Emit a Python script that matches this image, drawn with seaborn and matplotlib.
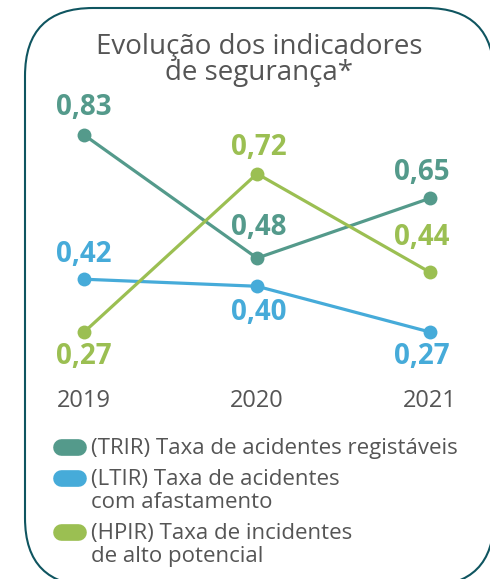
import matplotlib
matplotlib.use("Agg")
import matplotlib.pyplot as plt
import seaborn as sns
import pandas as pd
from matplotlib.patches import FancyBboxPatch
from matplotlib.lines import Line2D

years = ["2019", "2020", "2021"]
series_names = ["TRIR", "LTIR", "HPIR"]
trir = [0.83, 0.48, 0.65]
ltir = [0.42, 0.40, 0.27]
hpir = [0.27, 0.72, 0.44]
legend_labels = [
    "(TRIR) Taxa de acidentes registáveis",
    "(LTIR) Taxa de acidentes\ncom afastamento",
    "(HPIR) Taxa de incidentes\nde alto potencial",
]
title = "Evolução dos indicadores\nde segurança*"

colors = {"TRIR": "#549a8b", "LTIR": "#46abd9", "HPIR": "#9bbf52"}
text_gray = "#555555"
border_color = "#0f5560"

sns.set_theme(style="white")
plt.rcParams["font.family"] = ["Open Sans", "DejaVu Sans"]

rows = []
for name, vals in zip(series_names, [trir, ltir, hpir]):
    for i, v in enumerate(vals):
        rows.append({"x": i, "value": v, "series": name})
df = pd.DataFrame(rows)

W, H = 490, 579
fig = plt.figure(figsize=(W / 100, H / 100), dpi=100)

# background overlay axes in pixel units (y down)
bg = fig.add_axes([0, 0, 1, 1])
bg.set_xlim(0, W)
bg.set_ylim(H, 0)
bg.axis("off")
bg.patch.set_alpha(0)

# axes placement in pixels
ax_left, ax_right = 41, 473
ax_top, ax_bot = 110.4, 356.6
ax = fig.add_axes([ax_left / W, (H - ax_bot) / H, (ax_right - ax_left) / W, (ax_bot - ax_top) / H])
ax.patch.set_alpha(0)

sns.lineplot(data=df, x="x", y="value", hue="series", palette=colors,
             marker="o", markersize=10, markeredgewidth=0, linewidth=2.3,
             legend=False, ax=ax)

ax.set_xlim(-0.25, 2.25)
ax.set_ylim(0.2, 0.9)
ax.set_xticks(range(len(years)))
ax.set_xticklabels(years, fontsize=17, color=text_gray)
ax.tick_params(axis="x", length=0, pad=23)
ax.set_yticks([])
ax.set_xlabel("")
ax.set_ylabel("")
for s in ax.spines.values():
    s.set_visible(False)

# data labels: (dy in px (positive up), dx in px)
label_pos = {
    "TRIR": [(28, 0), (31, 2), (26, -8)],
    "LTIR": [(25, 0), (-26, 2), (-25, -8)],
    "HPIR": [(-25, 0), (26, 2), (35, -8)],
}
for name, vals in zip(series_names, [trir, ltir, hpir]):
    for i, v in enumerate(vals):
        dy, dx = label_pos[name][i]
        ax.annotate(f"{v:.2f}".replace(".", ","), (i, v),
                    xytext=(dx * 0.72, dy * 0.72), textcoords="offset points",
                    ha="center", va="center", fontsize=20, fontweight="bold",
                    color=colors[name])

# title
bg.text(259, 60, title, ha="center", va="center",
        multialignment="center", fontsize=20, color=text_gray, linespacing=0.95)

# legend (manual)
leg_rows = [(447, legend_labels[0], "TRIR"),
            (478, legend_labels[1], "LTIR"),
            (532, legend_labels[2], "HPIR")]
for yc, lab, name in leg_rows:
    bg.add_line(Line2D([61, 78], [yc, yc], color=colors[name], linewidth=12,
                       solid_capstyle="round", zorder=3))
    bg.text(91, yc - 9, lab, ha="left", va="top",
            fontsize=16, color=text_gray, linespacing=1.15, zorder=3)

# border (white fill avoids stroke clipping artifacts at the canvas edge)
box = FancyBboxPatch((25, 8), 494 - 25, 586 - 8,
                     boxstyle="round,pad=0,rounding_size=68",
                     fill=True, facecolor="white", edgecolor=border_color,
                     linewidth=1.5, clip_on=False, zorder=0)
bg.add_patch(box)

fig.savefig("out.png", dpi=100)
